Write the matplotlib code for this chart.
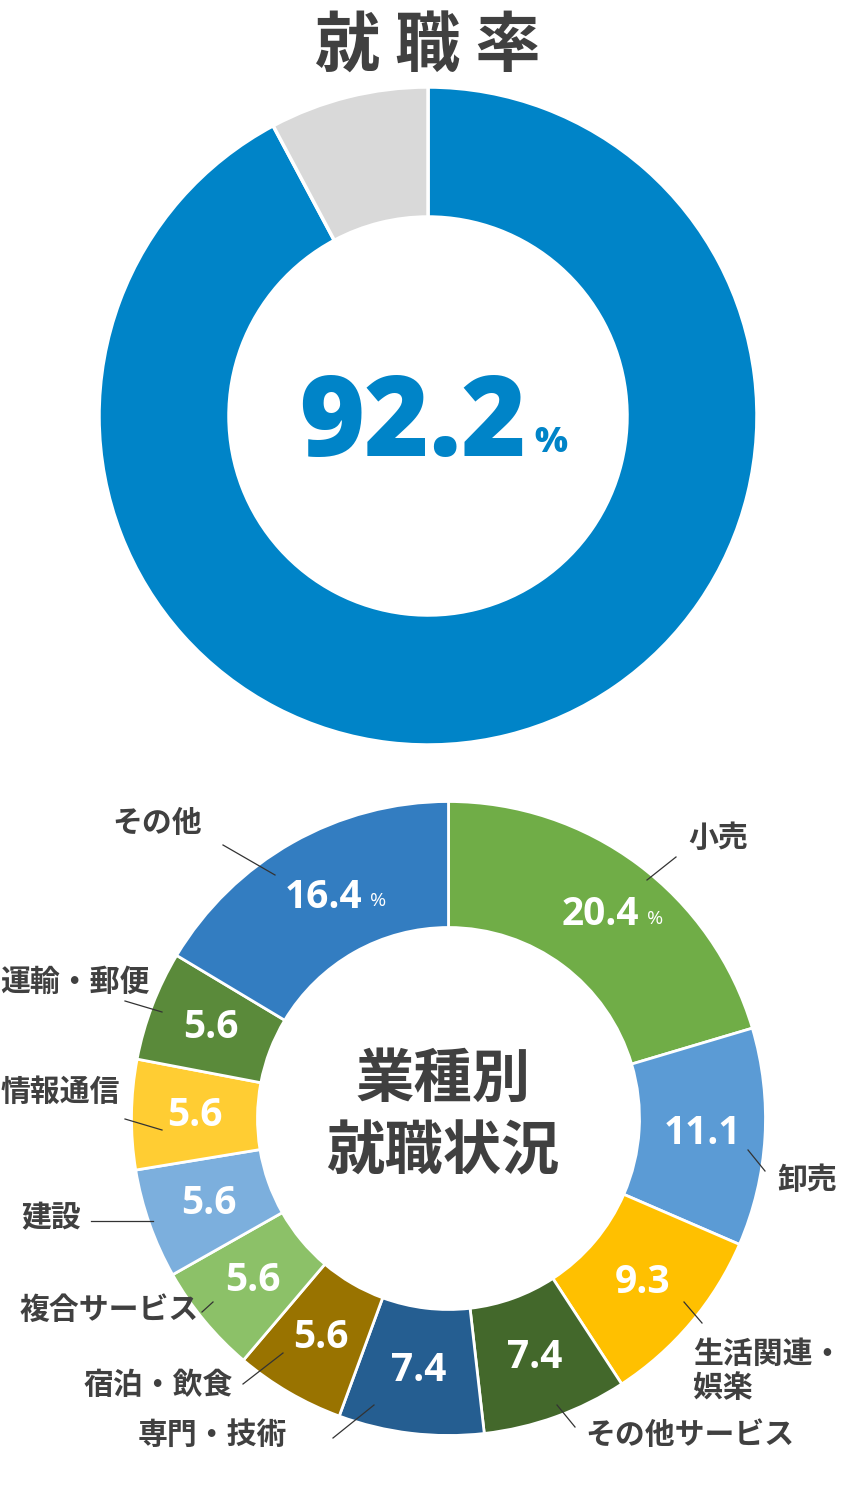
import numpy as np
import matplotlib.pyplot as plt

plt.rcParams['font.family'] = ['Noto Sans CJK JP', 'DejaVu Sans']

# top donut
rate = [92.2, 7.8]
rate_colors = ['#0084C8', '#D9D9D9']

# bottom donut (clockwise from 12 o'clock)
industries = ['小売', '卸売', '生活関連・\n娯楽', 'その他サービス', '専門・技術', '宿泊・飲食',
              '複合サービス', '建設', '情報通信', '運輸・郵便', 'その他']
shares = [20.4, 11.1, 9.3, 7.4, 7.4, 5.6, 5.6, 5.6, 5.6, 5.6, 16.4]
ind_colors = ['#70AD47', '#5B9BD5', '#FFC000', '#43682B', '#255E91', '#997300',
              '#8CC168', '#7CAFDD', '#FFCD33', '#5A8A3A', '#337DC1']

# label layout in pixels (image coords): text centre, leader line start/end
label_pos = [(718, 838), (807, 1180), (693, 1371), (690, 1435), (212, 1435), (158, 1385),
             (109, 1310), (51, 1218), (60, 1092), (75, 982), (157, 823)]
leaders = [((647, 880), (676, 857)), ((748, 1150), (765, 1171)), ((684, 1302), (702, 1323)),
           ((557, 1405), (575, 1427)), ((333, 1438), (374, 1405)), ((243, 1384), (283, 1353)),
           ((202, 1312), (213, 1302)), ((91, 1221), (153, 1221)), ((125, 1119), (162, 1130)),
           ((125, 1001), (162, 1012)), ((223, 845), (275, 875))]

W, H = 857, 1511
fig = plt.figure(figsize=(W / 100, H / 100), dpi=100)
ax = fig.add_axes([0, 0, 1, 1])
ax.set_xlim(0, W)
ax.set_ylim(0, H)
ax.set_aspect('equal')
ax.axis('off')

dark = '#404040'

def Y(y):
    return H - y

# --- top chart ---
c1 = (428, Y(416))
ax.pie(rate, colors=rate_colors, startangle=90, counterclock=False,
       center=c1, radius=329, frame=True,
       wedgeprops=dict(width=130, edgecolor='white', linewidth=2.5))
ax.text(428, Y(47), '就 職 率', fontsize=47, fontweight='bold', color=dark,
        ha='center', va='center')
ax.text(413, Y(427), f'{rate[0]}', fontsize=80, fontweight='heavy', color=rate_colors[0],
        family='Open Sans', ha='center', va='center')
ax.text(551, Y(443), '%', fontsize=25, fontweight='heavy', color=rate_colors[0],
        family='Open Sans', ha='center', va='center')

# --- bottom chart ---
cx, cy = 448.5, Y(1118.5)
R, w = 317, 126
ax.pie(shares, colors=ind_colors, startangle=90, counterclock=False,
       center=(cx, cy), radius=R, frame=True,
       wedgeprops=dict(width=w, edgecolor='white', linewidth=2))
ax.set_xlim(0, W)
ax.set_ylim(0, H)

cum = np.cumsum([0] + shares)
rmid = R - w / 2
for i, v in enumerate(shares):
    ang = np.deg2rad(90 - 360 * (cum[i] + v / 2) / 100)
    x = cx + rmid * np.cos(ang)
    y = cy + rmid * np.sin(ang)
    ax.text(x, y, f'{v}', fontsize=28, fontweight='bold', color='white',
            family='Open Sans', ha='center', va='center')
    if i in (0, 10):
        ax.text(x + 55, y - 4, '%', fontsize=14, color='white',
                family='Open Sans', ha='center', va='center')

for i, name in enumerate(industries):
    (x0, y0), (x1, y1) = leaders[i]
    ax.plot([x0, x1], [Y(y0), Y(y1)], color='#333333', lw=0.9)
    tx, ty = label_pos[i]
    if '\n' in name:
        ax.text(tx, Y(ty), name, fontsize=21.5, fontweight='bold', color=dark,
                ha='left', va='center', linespacing=1.2)
    else:
        ax.text(tx, Y(ty), name, fontsize=21.5, fontweight='bold', color=dark,
                ha='center', va='center')

ax.text(443, Y(1080), '業種別', fontsize=42, fontweight='bold', color=dark,
        ha='center', va='center')
ax.text(443, Y(1152), '就職状況', fontsize=42, fontweight='bold', color=dark,
        ha='center', va='center')

fig.savefig('out.png', dpi=100, facecolor='white')
